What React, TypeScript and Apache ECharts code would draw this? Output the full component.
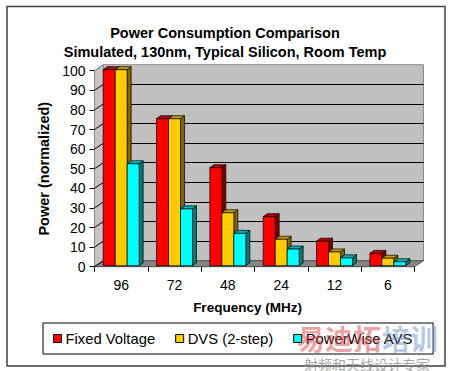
import React, { useEffect, useRef } from "react";
import * as echarts from "echarts";

const categories = ["96", "72", "48", "24", "12", "6"];
const fixedVoltage = [100, 75, 50, 25, 12.5, 6.25];
const dvsTwoStep = [100, 75, 27, 13.5, 7, 3.8];
const powerWiseAvs = [52, 29, 16.5, 8.5, 4, 2];
const yTickValues = [0, 10, 20, 30, 40, 50, 60, 70, 80, 90, 100];
const seriesNames = ["Fixed Voltage", "DVS (2-step)", "PowerWise AVS"];

const FONT = "'Liberation Sans', Arial, sans-serif";
const FRONT = { left: 94.5, top: 70.7, width: 320, height: 196 };
const DX = 9;
const DY = -6;
const BAR_DX = 4;
const BAR_DY = -3;

function barSeries(name: string, data: number[], k: number, front: string, top: string, side: string) {
  return {
    type: "custom",
    name,
    xAxisIndex: 0,
    yAxisIndex: 0,
    z: 10 + k,
    itemStyle: { color: front, borderColor: "#000", borderWidth: 1 },
    encode: { x: 0, y: 1 },
    data: data.map((v, i) => [i, v]),
    renderItem: (params: any, api: any) => {
      const i = api.value(0);
      const v = api.value(1);
      const base = api.coord([i, 0]);
      const tp = api.coord([i, v]);
      const band = api.size([1, 0])[0];
      const bw = band * 0.225;
      const x0 = base[0] - 1.5 * bw + k * bw;
      const x1 = x0 + bw;
      const yb = base[1] - 1;
      const yt = tp[1] - 1;
      const stroke = { stroke: "#000", lineWidth: 0.7 };
      return {
        type: "group",
        children: [
          {
            type: "polygon",
            shape: { points: [[x1, yt], [x1 + BAR_DX, yt + BAR_DY], [x1 + BAR_DX, yb + BAR_DY], [x1, yb]] },
            style: { fill: side, ...stroke },
          },
          {
            type: "polygon",
            shape: { points: [[x0, yt], [x1, yt], [x1 + BAR_DX, yt + BAR_DY], [x0 + BAR_DX, yt + BAR_DY]] },
            style: { fill: top, ...stroke },
          },
          {
            type: "rect",
            shape: { x: x0, y: yt, width: bw, height: yb - yt },
            style: { fill: front, ...stroke },
          },
        ],
      };
    },
  };
}

export default function App() {
  const ref = useRef<HTMLDivElement>(null);
  useEffect(() => {
    if (!ref.current) return;
    const chart = echarts.init(ref.current, null, { renderer: "svg" });
    const option: any = {
      animation: false,
      backgroundColor: "#ffffff",
      title: {
        text: "Power Consumption Comparison\nSimulated, 130nm, Typical Silicon, Room Temp",
        left: "center",
        top: 18,
        textStyle: { fontFamily: FONT, fontSize: 14.5, fontWeight: "bold", color: "#000", lineHeight: 19.5 },
      },
      legend: {
        data: seriesNames,
        left: 43,
        top: 323,
        padding: [8, 20, 8, 10],
        icon: "rect",
        itemWidth: 8,
        itemHeight: 8,
        itemGap: 20,
        selectedMode: false,
        borderColor: "#000",
        borderWidth: 1,
        backgroundColor: "#fff",
        itemStyle: { borderColor: "#000", borderWidth: 1 },
        textStyle: { fontFamily: FONT, fontSize: 14.8, color: "#000", padding: [0, 0, 0, -1] },
      },
      grid: [
        { ...FRONT, outerBoundsMode: "none", containLabel: false },
        {
          left: FRONT.left + DX,
          top: FRONT.top + DY,
          width: FRONT.width,
          height: FRONT.height,
          show: true,
          backgroundColor: "#c0c0c0",
          borderColor: "#8a8a8a",
          borderWidth: 1,
          outerBoundsMode: "none",
          containLabel: false,
        },
      ],
      xAxis: [
        {
          type: "category",
          gridIndex: 0,
          data: categories,
          name: "Frequency (MHz)",
          nameLocation: "middle",
          nameGap: 34,
          nameTextStyle: { fontFamily: FONT, fontSize: 13.5, fontWeight: "bold", color: "#000", padding: [0, 14, 0, 0] },
          axisLine: { show: true, lineStyle: { color: "#000", width: 1 } },
          axisTick: { show: true, length: 5, alignWithLabel: false, lineStyle: { color: "#000" } },
          axisLabel: { fontFamily: FONT, fontSize: 14, color: "#000", margin: 11 },
          splitLine: { show: false },
        },
        {
          type: "category",
          gridIndex: 1,
          data: categories,
          show: false,
        },
      ],
      yAxis: [
        {
          type: "value",
          gridIndex: 0,
          min: 0,
          max: 100,
          interval: 10,
          name: "Power (normalized)",
          nameLocation: "middle",
          nameGap: 42,
          nameTextStyle: { fontFamily: FONT, fontSize: 14.5, fontWeight: "bold", color: "#000" },
          axisLine: { show: true, lineStyle: { color: "#000", width: 1 } },
          axisTick: { show: true, length: 5, inside: false, lineStyle: { color: "#000" } },
          axisLabel: { fontFamily: FONT, fontSize: 14, color: "#000", margin: 9 },
          splitLine: { show: false },
        },
        {
          type: "value",
          gridIndex: 1,
          min: 0,
          max: 100,
          interval: 10,
          axisLine: { show: false },
          axisTick: { show: false },
          axisLabel: { show: false },
          splitLine: { show: true, showMinLine: false, showMaxLine: false, lineStyle: { color: "#000", width: 1 } },
        },
      ],
      series: [
        {
          type: "custom",
          name: "walls",
          xAxisIndex: 0,
          yAxisIndex: 0,
          z: 1,
          silent: true,
          data: [[0, 0]],
          renderItem: (params: any) => {
            const cs = params.coordSys;
            const x = cs.x, y = cs.y, w = cs.width, h = cs.height;
            return {
              type: "group",
              children: [
                {
                  type: "polygon",
                  shape: { points: [[x, y + h], [x, y], [x + DX, y + DY], [x + DX, y + h + DY]] },
                  style: { fill: "#c4c4c4", stroke: "#8a8a8a", lineWidth: 1 },
                },
                {
                  type: "polygon",
                  shape: { points: [[x, y + h], [x + w, y + h], [x + w + DX, y + h + DY], [x + DX, y + h + DY]] },
                  style: { fill: "#868686", stroke: "#555", lineWidth: 1 },
                },
              ],
            };
          },
        },
        {
          type: "custom",
          name: "sideGrid",
          xAxisIndex: 0,
          yAxisIndex: 0,
          z: 2,
          silent: true,
          encode: { x: 0, y: 1 },
          data: yTickValues.map((v) => [0, v]),
          renderItem: (params: any, api: any) => {
            const v = api.value(1);
            const y = api.coord([0, v])[1];
            const x = params.coordSys.x;
            return {
              type: "line",
              shape: { x1: x, y1: y, x2: x + DX, y2: y + DY },
              style: { stroke: v === 100 ? "#8a8a8a" : "#000", lineWidth: 1 },
            };
          },
        },
        barSeries(seriesNames[0], fixedVoltage, 0, "#ff0000", "#b80000", "#7a0000"),
        barSeries(seriesNames[1], dvsTwoStep, 1, "#ffcc00", "#c89b00", "#806400"),
        barSeries(seriesNames[2], powerWiseAvs, 2, "#00ffff", "#00b8b8", "#007a7a"),
      ],
      graphic: [
        {
          type: "rect",
          z: 0,
          shape: { x: 7, y: 6.5, width: 438, height: 359.5 },
          style: { fill: "none", stroke: "#404040", lineWidth: 1.5 },
        },
        {
          type: "text",
          z: 100,
          x: 297,
          y: 338,
          style: {
            text: "易迪拓",
            font: "bold 28px 'Noto Sans CJK SC'",
            fill: "rgba(214, 70, 70, 0.5)",
            verticalAlign: "middle",
          },
        },
        {
          type: "text",
          z: 100,
          x: 382,
          y: 338,
          style: {
            text: "培训",
            font: "bold 28px 'Noto Sans CJK SC'",
            fill: "rgba(110, 150, 200, 0.5)",
            verticalAlign: "middle",
          },
        },
        {
          type: "text",
          z: 100,
          x: 304,
          y: 363.5,
          style: {
            text: "射频和天线设计专家",
            font: "14px 'Noto Sans CJK SC'",
            fill: "rgba(140, 140, 140, 0.8)",
            verticalAlign: "middle",
          },
        },
      ],
    };
    chart.setOption(option);
    return () => chart.dispose();
  }, []);
  return <div ref={ref} style={{ position: "fixed", left: 0, top: 0, width: 450, height: 371 }} />;
}
